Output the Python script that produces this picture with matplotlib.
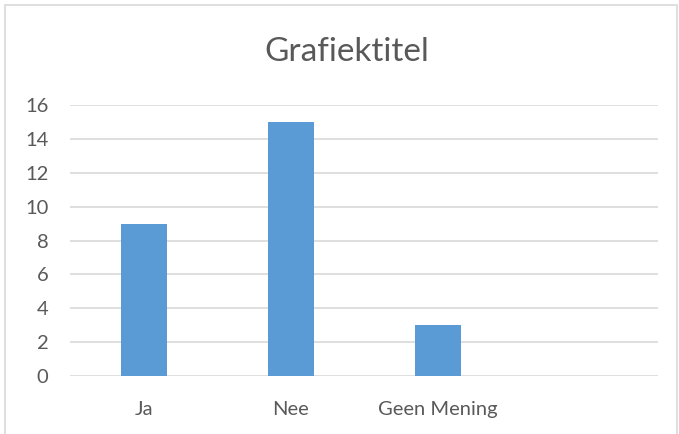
import matplotlib.pyplot as plt
from matplotlib.patches import Rectangle

# data
categories = ['Ja', 'Nee', 'Geen Mening', '']
values = [9, 15, 3, 0]
y_ticks = [0, 2, 4, 6, 8, 10, 12, 14, 16]

plt.rcParams['font.family'] = ['Lato', 'DejaVu Sans']
text_color = '#595959'
grid_color = '#d9d9d9'

fig = plt.figure(figsize=(6.79, 4.34), dpi=100)
ax = fig.add_axes([0.1038, 0.1336, 0.866, 0.6244])

# outer chart frame, like the Excel chart border
fig.patches.append(Rectangle((5 / 679, -0.05), 672 / 679, 1.05 - 5 / 434,
                             transform=fig.transFigure, fill=False,
                             edgecolor=grid_color, linewidth=1.2))

x = range(len(categories))
ax.bar(x, values, width=0.313, color='#5b9bd5', zorder=3)

ax.set_xlim(-0.5, len(categories) - 0.5)
ax.set_ylim(0, 16)
ax.set_yticks(y_ticks)
ax.set_xticks(list(x))
ax.set_xticklabels(categories)
ax.yaxis.grid(True, color=grid_color, linewidth=1.2, zorder=0)

for side in ['top', 'right', 'left', 'bottom']:
    ax.spines[side].set_visible(False)
ax.tick_params(axis='both', length=0, labelsize=14.5, colors=text_color)
ax.tick_params(axis='x', pad=18)
ax.tick_params(axis='y', pad=16)

fig.text(347 / 679, 1 - 52 / 434, 'Grafiektitel', ha='center', va='center',
         fontsize=24, color=text_color)

fig.savefig('out.png', dpi=100)
